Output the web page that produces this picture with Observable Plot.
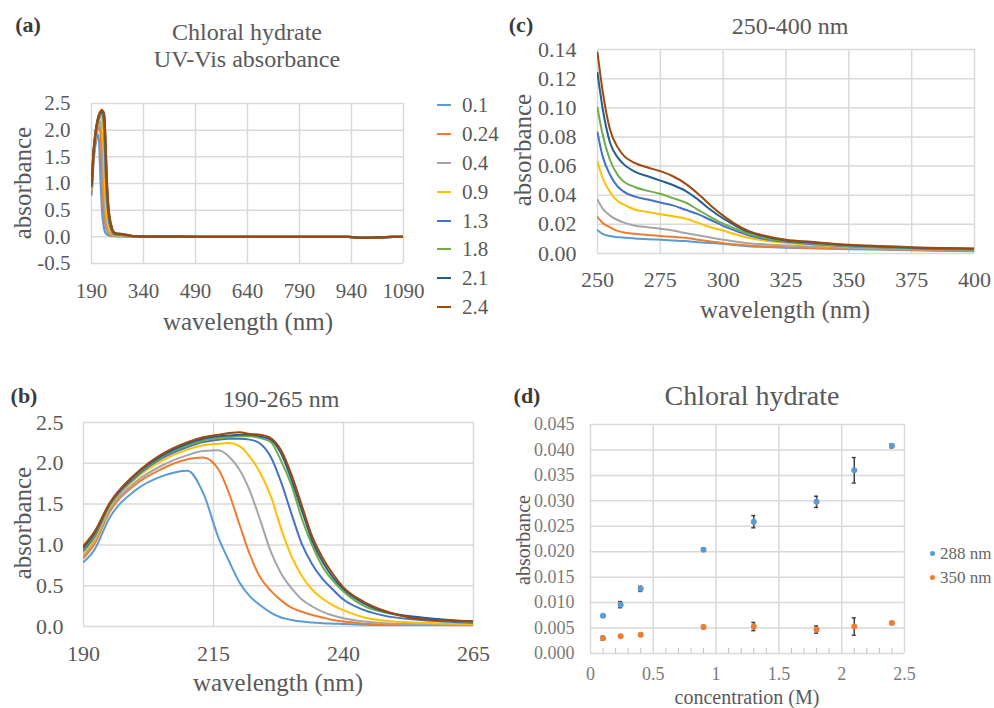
<!DOCTYPE html>
<html><head><meta charset="utf-8">
<script src="https://cdn.jsdelivr.net/npm/d3@7"></script>
<script src="https://cdn.jsdelivr.net/npm/@observablehq/plot@0.6"></script>
<style>
body{margin:0;background:#fff;}
#root{position:relative;width:994px;height:708px;overflow:hidden;background:#fff;font-family:"Liberation Serif","Times New Roman",serif;color:#595959;}
.t{position:absolute;white-space:nowrap;transform:translate(-50%,-50%);line-height:1;}
.v{transform:translate(-50%,-50%) rotate(-90deg);}
.p{position:absolute;}
.lbl{position:absolute;white-space:nowrap;line-height:1;transform:translateY(-50%);}
</style></head><body><div id="root"></div>
<script>
// ---------- shared series ----------
const concentrations = ["0.1","0.24","0.4","0.9","1.3","1.8","2.1","2.4"];
const seriesColors = ["#5B9BD5","#ED7D31","#A5A5A5","#FFC000","#4472C4","#70AD47","#255E91","#9E480E"];

// ---------- panel (b): 190-265 nm ----------
const bWavelength = [190,192,195,200,205,210,213,216,218,220,222,224,226,228,230,232,234,236,238,240,244,248,255,265];
const bAbsorbance = [
  [0.79,0.93,1.33,1.67,1.84,1.91,1.64,1.08,0.80,0.54,0.37,0.26,0.17,0.11,0.08,0.06,0.05,0.04,0.035,0.03,0.02,0.015,0.012,0.01],
  [0.84,1.00,1.40,1.74,1.93,2.05,2.07,1.92,1.63,1.25,0.88,0.60,0.44,0.32,0.23,0.18,0.14,0.11,0.08,0.06,0.035,0.025,0.018,0.015],
  [0.87,1.03,1.43,1.77,1.97,2.10,2.15,2.16,2.08,1.92,1.66,1.30,0.92,0.65,0.47,0.33,0.245,0.18,0.135,0.10,0.06,0.04,0.03,0.02],
  [0.90,1.06,1.46,1.81,2.03,2.17,2.22,2.24,2.25,2.21,2.08,1.88,1.60,1.20,0.86,0.62,0.45,0.34,0.26,0.20,0.11,0.07,0.045,0.03],
  [0.93,1.09,1.48,1.83,2.06,2.20,2.26,2.29,2.30,2.30,2.29,2.24,2.08,1.77,1.38,1.01,0.76,0.58,0.45,0.33,0.20,0.13,0.08,0.045],
  [0.96,1.11,1.49,1.85,2.08,2.22,2.28,2.31,2.32,2.33,2.33,2.31,2.26,2.03,1.73,1.32,0.99,0.73,0.56,0.43,0.25,0.17,0.10,0.055],
  [0.97,1.13,1.50,1.86,2.09,2.24,2.30,2.33,2.34,2.35,2.35,2.33,2.29,2.12,1.80,1.42,1.05,0.79,0.60,0.46,0.28,0.18,0.11,0.06],
  [0.99,1.15,1.51,1.87,2.11,2.26,2.32,2.35,2.37,2.38,2.36,2.35,2.31,2.16,1.86,1.48,1.10,0.84,0.64,0.48,0.30,0.19,0.09,0.065]
];
const bXTicks = [190,215,240,265];
const bYTicks = [0,0.5,1,1.5,2,2.5];

// ---------- panel (c): 250-400 nm ----------
const cWavelength = [250,252,255,258,260,265,270,275,280,285,290,295,300,305,310,317,325,335,350,365,375,390,400];
const cAbsorbance = [
  [0.016,0.0135,0.012,0.0112,0.011,0.0103,0.0098,0.0094,0.009,0.0085,0.0078,0.0072,0.0066,0.0058,0.005,0.0045,0.004,0.0036,0.003,0.0026,0.0022,0.0017,0.0015],
  [0.025,0.021,0.018,0.0155,0.0146,0.0135,0.0127,0.012,0.0115,0.0108,0.0095,0.0082,0.0071,0.0062,0.0055,0.0048,0.0043,0.0038,0.0032,0.0028,0.0025,0.0019,0.0017],
  [0.037,0.031,0.026,0.023,0.0215,0.019,0.018,0.017,0.0158,0.014,0.0125,0.011,0.0094,0.0082,0.0071,0.0062,0.0055,0.0047,0.0039,0.0033,0.003,0.0024,0.002],
  [0.063,0.052,0.042,0.036,0.034,0.030,0.0285,0.027,0.0255,0.024,0.021,0.018,0.0158,0.013,0.0108,0.0088,0.0073,0.006,0.0048,0.004,0.0035,0.003,0.0027],
  [0.083,0.067,0.054,0.046,0.043,0.039,0.037,0.035,0.033,0.030,0.027,0.023,0.019,0.0155,0.0125,0.0098,0.008,0.0065,0.005,0.0041,0.0036,0.003,0.0028],
  [0.100,0.082,0.064,0.054,0.050,0.0455,0.043,0.041,0.038,0.035,0.030,0.025,0.0205,0.017,0.0135,0.0105,0.0085,0.007,0.005,0.0043,0.0038,0.0032,0.003],
  [0.124,0.100,0.076,0.066,0.062,0.056,0.053,0.050,0.047,0.043,0.037,0.030,0.024,0.019,0.0148,0.0115,0.009,0.0075,0.0056,0.0047,0.004,0.0034,0.0032],
  [0.138,0.112,0.085,0.073,0.068,0.062,0.059,0.0565,0.053,0.048,0.041,0.033,0.026,0.020,0.0155,0.012,0.0095,0.008,0.006,0.005,0.0043,0.0037,0.0035]
];
const cXTicks = [250,275,300,325,350,375,400];
const cYTicks = [0,0.02,0.04,0.06,0.08,0.10,0.12,0.14];

// ---------- panel (a): full range, tail beyond 400 nm ----------
const aTailWavelength = [450,500,600,800,930,950,970,990,1010,1040,1060,1090];
const aTailAbsorbance = [
  [0.001,0,0,0,0,-0.008,-0.012,-0.012,-0.008,-0.004,0,0],
  [0.001,0,0,0,0,-0.008,-0.014,-0.013,-0.009,-0.004,0,0],
  [0.001,0,0,0,0,-0.009,-0.014,-0.014,-0.009,-0.005,0,0],
  [0.001,0,0,0,0,-0.010,-0.016,-0.015,-0.010,-0.005,0,0],
  [0.002,0,0,0,0,-0.010,-0.017,-0.016,-0.011,-0.005,0,0],
  [0.002,0,0,0,0,-0.011,-0.018,-0.017,-0.012,-0.006,0,0],
  [0.002,0.001,0,0,0,-0.012,-0.019,-0.018,-0.012,-0.006,0,0],
  [0.002,0.001,0,0,0,-0.012,-0.020,-0.019,-0.013,-0.006,0,0]
];
const aXTicks = [190,340,490,640,790,940,1090];
const aYTicks = [-0.5,0,0.5,1,1.5,2,2.5];

// ---------- panel (d): concentration series ----------
const dConcentration = [0.1,0.24,0.4,0.9,1.3,1.8,2.1,2.4];
const d288 = [0.0074,0.0096,0.0127,0.0204,0.0259,0.0298,0.0360,0.0408];
const d288Err = [0.0002,0.0006,0.0005,0.0003,0.0012,0.0011,0.0025,0.0004];
const d350 = [0.0030,0.0034,0.0037,0.0052,0.0053,0.0047,0.0053,0.0060];
const d350Err = [0.0004,0.0002,0.0002,0.0003,0.0008,0.0007,0.0017,0.0002];
const dSeries = ["288 nm","350 nm"];
const dColors = ["#5B9BD5","#ED7D31"];
const dXTicks = [0,0.5,1,1.5,2,2.5];
const dYTicks = [0,0.005,0.01,0.015,0.02,0.025,0.03,0.035,0.04,0.045];
const dMinorTicks = [0.1,0.2,0.3,0.4,0.6,0.7,0.8,0.9,1.1,1.2,1.3,1.4,1.6,1.7,1.8,1.9,2.1,2.2,2.3,2.4];

// ---------- build tables ----------
function table(wls, rows, filter) {
  const out = [];
  rows.forEach((r, i) => r.forEach((v, j) => {
    if (!filter || filter(wls[j])) out.push({wl: wls[j], abs: v, conc: concentrations[i], k: i});
  }));
  return out;
}
const bData = table(bWavelength, bAbsorbance);
const cData = table(cWavelength, cAbsorbance);
const aData = [
  ...table(bWavelength, bAbsorbance, w => w < 250),
  ...table(cWavelength, cAbsorbance),
  ...table(aTailWavelength, aTailAbsorbance)
].sort((p, q) => p.k - q.k || p.wl - q.wl);

const root = document.getElementById("root");
const GRID = "#d9d9d9";

function place(el, left, top) {
  const d = document.createElement("div");
  d.className = "p"; d.style.left = left + "px"; d.style.top = top + "px";
  d.appendChild(el); root.appendChild(d);
}
function text(str, x, y, size, opts = {}) {
  const d = document.createElement("div");
  d.className = "t" + (opts.vertical ? " v" : "");
  d.textContent = str;
  d.style.left = x + "px"; d.style.top = y + "px"; d.style.fontSize = size + "px";
  if (opts.bold) d.style.fontWeight = "bold";
  if (opts.color) d.style.color = opts.color;
  root.appendChild(d);
}

function spectrum(data, cfg) {
  return Plot.plot({
    width: cfg.width, height: cfg.height,
    marginLeft: cfg.ml, marginRight: cfg.mr, marginTop: cfg.mt, marginBottom: cfg.mb,
    style: {fontFamily: "'Liberation Serif','Times New Roman',serif", fontSize: cfg.font + "px", color: "#595959", background: "transparent", overflow: "visible"},
    x: {domain: cfg.xDomain, label: null},
    y: {domain: cfg.yDomain, label: null},
    color: {domain: concentrations, range: seriesColors},
    marks: [
      Plot.gridX(cfg.xTicks, {stroke: GRID, strokeOpacity: 1, strokeWidth: 1.5}),
      Plot.gridY(cfg.yTicks, {stroke: GRID, strokeOpacity: 1, strokeWidth: 1.5}),
      Plot.axisX(cfg.xTicks, {tickSize: 0, tickPadding: cfg.xPad, tickFormat: d => String(d), label: null}),
      Plot.axisY(cfg.yTicks, {tickSize: 0, tickPadding: cfg.yPad, tickFormat: d => d.toFixed(cfg.yDec), label: null}),
      Plot.line(data, {x: "wl", y: "abs", z: "conc", stroke: "conc", strokeWidth: cfg.sw, curve: "monotone-x", clip: true})
    ]
  });
}

// panel (a)
place(spectrum(aData, {width: 430, height: 220, ml: 91, mr: 27, mt: 13, mb: 47, font: 21,
  xDomain: [190, 1090], yDomain: [-0.5, 2.5], xTicks: aXTicks, yTicks: aYTicks, xPad: 20, yPad: 21, yDec: 1, sw: 2.25}), 0, 90);
// panel (c)
place(spectrum(cData, {width: 494, height: 255, ml: 97, mr: 20, mt: 9, mb: 42, font: 22,
  xDomain: [250, 400], yDomain: [0, 0.14], xTicks: cXTicks, yTicks: cYTicks, xPad: 18, yPad: 21, yDec: 2, sw: 2}), 500, 40);
// panel (b)
place(spectrum(bData, {width: 500, height: 260, ml: 83, mr: 27, mt: 12, mb: 44, font: 22,
  xDomain: [190, 265], yDomain: [0, 2.5], xTicks: bXTicks, yTicks: bYTicks, xPad: 19, yPad: 20, yDec: 1, sw: 2}), 0, 410);

// panel (d)
const dData = [];
dConcentration.forEach((c, i) => {
  dData.push({c, v: d288[i], e: d288Err[i], s: dSeries[0]});
  dData.push({c, v: d350[i], e: d350Err[i], s: dSeries[1]});
});
const dPlot = Plot.plot({
  width: 494, height: 298, marginLeft: 90, marginRight: 90, marginTop: 14, marginBottom: 55,
  style: {fontFamily: "'Liberation Serif','Times New Roman',serif", fontSize: "18px", color: "#7a7a7a", background: "transparent", overflow: "visible"},
  x: {domain: [0, 2.5], label: null},
  y: {domain: [0, 0.045], label: null},
  color: {domain: dSeries, range: dColors},
  marks: [
    Plot.gridX(dXTicks, {stroke: GRID, strokeOpacity: 1, strokeWidth: 1.5}),
    Plot.gridY(dYTicks, {stroke: GRID, strokeOpacity: 1, strokeWidth: 1.5}),
    Plot.ruleX(dMinorTicks, {x: d => d, y1: 0, y2: 0.001, stroke: "#bfbfbf", strokeWidth: 1}),
    Plot.axisX(dXTicks, {tickSize: 0, tickPadding: 14, tickFormat: d => String(d), label: null}),
    Plot.axisY(dYTicks, {tickSize: 0, tickPadding: 16, tickFormat: d => d.toFixed(3), label: null}),
    Plot.ruleX(dData, {x: "c", y1: d => d.v - d.e, y2: d => d.v + d.e, stroke: "#404040", strokeWidth: 1.5}),
    Plot.ruleY(dData, {y: d => d.v - d.e, x1: d => d.c - 0.016, x2: d => d.c + 0.016, stroke: "#404040", strokeWidth: 1.5}),
    Plot.ruleY(dData, {y: d => d.v + d.e, x1: d => d.c - 0.016, x2: d => d.c + 0.016, stroke: "#404040", strokeWidth: 1.5}),
    Plot.dot(dData, {x: "c", y: "v", fill: "s", r: 3})
  ]
});
place(dPlot, 500, 410);

// ---------- text ----------
const DARK = "#3a3a3a";
text("(a)", 28, 25, 22, {bold: true, color: DARK});
text("Chloral hydrate", 247, 32, 24);
text("UV-Vis absorbance", 247, 59, 24);
text("absorbance", 22, 183, 25, {vertical: true});
text("wavelength (nm)", 248, 321, 25);

text("(c)", 521, 25, 22, {bold: true, color: DARK});
text("250-400 nm", 790, 26, 24);
text("absorbance", 522, 150, 25, {vertical: true});
text("wavelength (nm)", 785, 309, 25);

text("(b)", 24, 396, 22, {bold: true, color: DARK});
text("190-265 nm", 281, 399, 24);
text("absorbance", 22, 523, 25, {vertical: true});
text("wavelength (nm)", 278, 682, 25);

text("(d)", 527, 396, 22, {bold: true, color: DARK});
text("Chloral hydrate", 752, 396, 28);
text("absorbance", 523, 540, 20, {vertical: true});
text("concentration (M)", 747, 697, 20);

// legend (a)
const legendRows = [105,134,163,192,221,249,278,307];
concentrations.forEach((c, i) => {
  const ln = document.createElement("div");
  ln.style.cssText = `position:absolute;left:437px;top:${legendRows[i]-1}px;width:14px;height:2px;background:${seriesColors[i]}`;
  root.appendChild(ln);
  const t = document.createElement("div");
  t.className = "lbl"; t.textContent = c;
  t.style.cssText += `left:462px;top:${legendRows[i]}px;font-size:21px;`;
  root.appendChild(t);
});
// legend (d)
const dLegendRows = [553,577];
dSeries.forEach((s, i) => {
  const dot = document.createElement("div");
  dot.style.cssText = `position:absolute;left:${932-2.5}px;top:${dLegendRows[i]-2.5}px;width:5px;height:5px;border-radius:50%;background:${dColors[i]}`;
  root.appendChild(dot);
  const t = document.createElement("div");
  t.className = "lbl"; t.textContent = s;
  t.style.cssText += `left:940px;top:${dLegendRows[i]}px;font-size:17px;color:#666;`;
  root.appendChild(t);
});
</script></body></html>
